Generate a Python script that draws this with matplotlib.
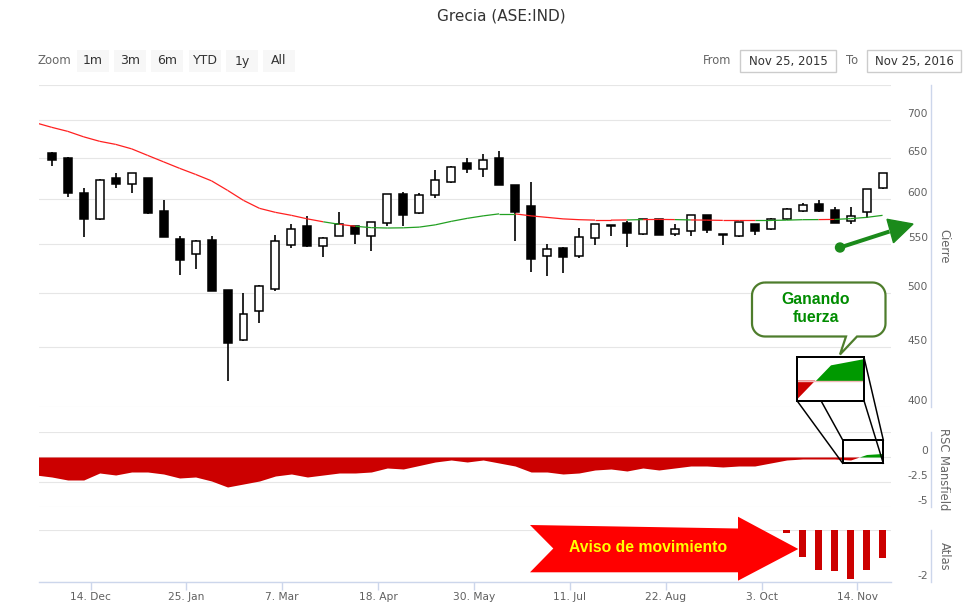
import numpy as np
import pandas as pd
import matplotlib
matplotlib.use("Agg")
import matplotlib.pyplot as plt
import matplotlib.dates as mdates
from matplotlib.patches import Rectangle, Polygon, PathPatch, Circle
from matplotlib.collections import LineCollection
from matplotlib.path import Path
from matplotlib.ticker import FixedLocator, NullLocator

plt.rcParams['font.family'] = ['DejaVu Sans']

# ---------------- data ----------------
title = "Grecia (ASE:IND)"
week_dates = pd.date_range("2015-11-27", "2016-11-25", freq="W-FRI")
opens = [657, 651, 607, 577, 626, 618, 625, 587, 555, 539, 554, 503, 456, 482, 504, 549, 569, 548,
         559, 570, 559, 573, 606, 584, 605, 621, 644, 636, 650, 617, 592, 537, 546, 537, 556, 570,
         573, 561, 577, 561, 564, 582, 560, 558, 572, 566, 577, 586, 594, 588, 575, 585, 613]
highs = [658, 652, 613, 624, 631, 632, 626, 599, 559, 554, 558, 503, 500, 508, 560, 572, 581, 557,
         585, 570, 574, 606, 609, 607, 635, 640, 651, 656, 659, 617, 621, 550, 547, 567, 572, 570.5,
         575, 577, 577, 572, 582, 582, 560.5, 574, 572, 579, 590, 596, 599, 591, 591, 612, 632]
lows = [640, 603, 557, 576, 613, 607, 583, 557, 518, 524, 502, 421, 455, 471, 502, 546, 547, 536,
        558, 550, 542, 570, 569, 583, 602, 620, 632, 627, 617, 553, 521, 517, 520, 535, 549, 559,
        547, 560, 560, 558, 558, 562, 549, 557, 560, 565, 576, 585, 585, 573, 572, 578, 612]
closes = [648, 607, 577, 623, 618, 632, 584, 557, 533, 553, 502, 453, 480, 507, 553, 566, 548, 556,
          572, 561, 574, 606, 582, 605, 623, 639, 636, 648, 617, 585, 534, 545, 536, 557, 572, 570.5,
          562, 577, 560, 566, 582, 565, 560.5, 574, 564, 577, 589, 593, 587, 573, 581, 612, 631]

ind_dates = pd.date_range("2015-11-20", "2016-11-25", freq="W-FRI")
ma_close = [696.6, 690.5, 685.1, 677.8, 671.9, 667.9, 662.1, 653.7, 645.5, 637.4, 629.9, 622.0,
            610.6, 598.7, 589.5, 584.9, 581.5, 577.5, 574.2, 571.4, 569.2, 567.7, 567.3, 567.5,
            568.3, 570.8, 574.7, 578.1, 580.9, 583.2, 583.2, 580.9, 579.2, 577.5, 576.6, 576.1,
            576.1, 576.3, 576.7, 576.9, 576.7, 576.3, 576.1, 575.8, 575.8, 575.8, 575.8, 576.1,
            576.6, 576.7, 576.9, 577.8, 579.2, 581.5]
rsc_mansfield = [-1.8, -2.0, -2.3, -2.3, -1.6, -1.8, -1.5, -1.5, -1.7, -2.1, -2.0, -2.4, -3.0, -2.7,
                 -2.4, -1.9, -1.7, -2.0, -1.8, -1.6, -1.6, -1.5, -1.1, -1.2, -0.85, -0.5, -0.3, -0.5,
                 -0.3, -0.6, -0.9, -1.5, -1.5, -1.7, -1.6, -1.3, -1.2, -1.4, -1.1, -1.3, -1.1, -0.9,
                 -0.9, -1.0, -0.9, -0.9, -0.6, -0.3, -0.2, -0.2, -0.2, -0.3, 0.25, 0.35]

atlas_dates = pd.to_datetime(["2016-10-14", "2016-10-21", "2016-10-28", "2016-11-04",
                              "2016-11-11", "2016-11-18", "2016-11-25"])
atlas_values = [-0.13, -1.05, -1.52, -1.56, -1.88, -1.52, -1.08]

price_ticks = [400, 450, 500, 550, 600, 650, 700]
rsc_ticks = [0, -2.5, -5]
rsc_tick_labels = ["0", "-2.5", "-5"]
atlas_ticks = [-2]
atlas_tick_labels = ["-2"]
x_tick_dates = pd.to_datetime(["2015-12-14", "2016-01-25", "2016-03-07", "2016-04-18", "2016-05-30",
                               "2016-07-11", "2016-08-22", "2016-10-03", "2016-11-14"])
x_tick_labels = ["14. Dec", "25. Jan", "7. Mar", "18. Apr", "30. May", "11. Jul", "22. Aug",
                 "3. Oct", "14. Nov"]
zoom_buttons = ["1m", "3m", "6m", "YTD", "1y", "All"]
date_from = "Nov 25, 2015"
date_to = "Nov 25, 2016"

# ---------------- layout ----------------
W, H = 964, 611
fig = plt.figure(figsize=(W / 100, H / 100), dpi=100)
fig.patch.set_facecolor("white")

PX = 0.72  # points per pixel
GRID = "#e6e6e6"
AXC = "#ccd6eb"
LBL = "#606060"

wd = mdates.date2num(week_dates.to_pydatetime())
idn = mdates.date2num(ind_dates.to_pydatetime())
x_anchor = mdates.date2num(pd.Timestamp("2015-11-27").to_pydatetime())
xlim = (x_anchor - 5.82, x_anchor + 367.7)

L, R = 38.5, 891


def panel(top, bottom):
    ax = fig.add_axes([L / W, 1 - bottom / H, (R - L) / W, (bottom - top) / H])
    ax.set_xlim(*xlim)
    for s in ["top", "left", "bottom"]:
        ax.spines[s].set_visible(False)
    ax.spines["right"].set_position(("outward", 40 * PX))
    ax.spines["right"].set_color(AXC)
    ax.spines["right"].set_linewidth(1.0)
    ax.tick_params(which="both", left=False, right=False, bottom=False,
                   labelleft=False, labelright=False, labelbottom=False)
    ax.grid(axis="y", color=GRID, lw=0.8)
    ax.set_axisbelow(True)
    return ax


def ylabels(ax, vals, labels):
    for v, t in zip(vals, labels):
        ax.annotate(t, xy=(1, v), xycoords=("axes fraction", "data"), xytext=(37, 6),
                    textcoords="offset pixels", ha="right", va="center", fontsize=7.7,
                    color=LBL, annotation_clip=False)


# price panel
ax1 = panel(85, 407)
ax1.set_yscale("log")
ax1.set_ylim(400, 750)
ax1.yaxis.set_major_locator(FixedLocator(price_ticks + [750]))
ax1.yaxis.set_minor_locator(NullLocator())
ax1.tick_params(which="both", left=False, right=False, labelleft=False, labelright=False)
ylabels(ax1, price_ticks, [str(v) for v in price_ticks])

bw = 3.5
for d, o, h, l, c in zip(wd, opens, highs, lows, closes):
    ax1.vlines(d, l, h, color="black", lw=1.2, zorder=3)
    lo, hi = min(o, c), max(o, c)
    if hi - lo < 0.6:
        hi = lo + 0.6
    ax1.add_patch(Rectangle((d - bw / 2, lo), bw, hi - lo, facecolor="black" if c < o else "white",
                            edgecolor="black", lw=1.1, zorder=4))

pts = np.column_stack([idn, ma_close])
segs, cols = [], []
close_by_date = dict(zip(wd, closes))
for k in range(1, len(pts)):
    segs.append(pts[k - 1:k + 1])
    c = close_by_date.get(idn[k], None)
    cols.append("#22a022" if (c is not None and c > ma_close[k]) else "#ff2020")
ax1.add_collection(LineCollection(segs, colors=cols, lw=0.9, zorder=5))

# RSC panel
ax2 = panel(432, 507)
ax2.set_ylim(-5, 2.5)
ax2.yaxis.set_major_locator(FixedLocator([2.5, 0, -2.5, -5]))
rsc = np.array(rsc_mansfield)
ax2.fill_between(idn, rsc, 0, where=rsc <= 0, interpolate=True, color="#cc0000", lw=0, zorder=3)
ax2.fill_between(idn, rsc, 0, where=rsc >= 0, interpolate=True, color="#009900", lw=0, zorder=3)
ylabels(ax2, rsc_ticks, rsc_tick_labels)

# Atlas panel
ax3 = panel(530, 582)
ax3.set_ylim(-2, 0)
ax3.yaxis.set_major_locator(FixedLocator([0, -2]))
ax3.bar(mdates.date2num(atlas_dates.to_pydatetime()), atlas_values, width=3.2, color="#cc0000",
        zorder=3)
ylabels(ax3, atlas_ticks, atlas_tick_labels)
ax3.spines["bottom"].set_visible(True)
ax3.spines["bottom"].set_color(AXC)
ax3.spines["bottom"].set_linewidth(1.0)
ax3.set_xticks(mdates.date2num(x_tick_dates.to_pydatetime()))
ax3.set_xticklabels(x_tick_labels)
ax3.tick_params(axis="x", bottom=True, labelbottom=True, length=8 * PX, width=1.0, color=AXC,
                labelcolor=LBL, labelsize=7.7, pad=1.5)

# ---------------- overlay (annotations, UI) ----------------
ov = fig.add_axes([0, 0, 1, 1], zorder=10)
ov.set_xlim(0, W)
ov.set_ylim(H, 0)
ov.axis("off")
ov.patch.set_alpha(0)

ov.text(501, 16, title, ha="center", va="center", fontsize=11, color="#333333")
ov.text(38, 61, "Zoom", ha="left", va="center", fontsize=8.5, color="#666666")
bx = [77, 114, 151, 189, 226, 263]
for x0, t in zip(bx, zoom_buttons):
    ov.add_patch(Rectangle((x0, 50), 32, 22, facecolor="#f7f7f7", edgecolor="none"))
    ov.text(x0 + 16, 61, t, ha="center", va="center", fontsize=9, color="#333333")
ov.text(731, 61, "From", ha="right", va="center", fontsize=8.3, color="#666666")
ov.add_patch(Rectangle((740, 50), 96, 22, facecolor="white", edgecolor="#cccccc", lw=1.0))
ov.text(788, 61, date_from, ha="center", va="center", fontsize=8.5, color="#333333")
ov.text(846, 61, "To", ha="left", va="center", fontsize=8.3, color="#666666")
ov.add_patch(Rectangle((867, 50), 94, 22, facecolor="white", edgecolor="#cccccc", lw=1.0))
ov.text(914, 61, date_to, ha="center", va="center", fontsize=8.5, color="#333333")

for txt, yc in [("Cierre", 246), ("RSC Mansfield", 469.5), ("Atlas", 556)]:
    ov.text(944, yc, txt, rotation=270, ha="center", va="center", fontsize=8.3, color="#666666")

# green arrow
g = "#1b8a1b"
ov.plot([840, 889.5], [247.5, 231.5], color=g, lw=4 * PX, solid_capstyle="butt")
ov.add_patch(Circle((840, 247.5), 4.5, color=g))
ov.add_patch(Polygon([(887, 219.3), (913, 224), (893.5, 242.7)], closed=True, color=g))

# callout "Ganando fuerza"
x0, y0, x1, y1, r = 752, 282.5, 885.5, 336.5, 13
verts = []
def arc(cx, cy, a0, a1):
    for a in np.linspace(np.radians(a0), np.radians(a1), 12):
        verts.append((cx + r * np.cos(a), cy + r * np.sin(a)))
verts.append((x0 + r, y0))
verts.append((x1 - r, y0))
arc(x1 - r, y0 + r, -90, 0)
verts.append((x1, y1 - r))
arc(x1 - r, y1 - r, 0, 90)
verts.append((857, y1))
verts.append((840, 354.5))
verts.append((846, y1))
verts.append((x0 + r, y1))
arc(x0 + r, y1 - r, 90, 180)
verts.append((x0, y0 + r))
arc(x0 + r, y0 + r, 180, 270)
verts.append(verts[0])
ov.add_patch(PathPatch(Path(verts), facecolor="white", edgecolor="#4e7d2c", lw=1.6))
ov.text(816, 299.5, "Ganando", ha="center", va="center", fontsize=11.3, fontweight="bold",
        color="#008c00", family=["Liberation Sans", "DejaVu Sans"])
ov.text(816, 317.5, "fuerza", ha="center", va="center", fontsize=11.3, fontweight="bold",
        color="#008c00", family=["Liberation Sans", "DejaVu Sans"])

# magnifier lines and small box
bxl, bxr, byt, byb = 797, 864, 357.3, 400.7
sxl, sxr, syt, syb = 842.7, 883.3, 440, 463.3
for (xa, ya), (xb, yb) in [((bxl, byt), (sxl, syt)), ((bxl, byb), (sxl, syb)),
                           ((bxr, byt), (sxr, syt)), ((bxr, byb), (sxr, syb))]:
    ov.plot([xa, xb], [ya, yb], color="black", lw=1.5 * PX)
ov.add_patch(Rectangle((sxl, syt), sxr - sxl, syb - syt, fill=False, edgecolor="black", lw=2 * PX))

# red arrow "Aviso de movimiento"
ov.add_patch(Polygon([(530, 525), (738, 528.5), (738, 516.7), (798.3, 549), (738, 580.7),
                      (738, 572.3), (530, 572.3), (553.3, 548.5)], closed=True,
                     facecolor="#ff0000", edgecolor="none"))
ov.text(648, 547.5, "Aviso de movimiento", ha="center", va="center", fontsize=11.3,
        fontweight="bold", color="#ffff00", family=["Liberation Sans", "DejaVu Sans"])

# magnified inset
ins = fig.add_axes([bxl / W, 1 - byb / H, (bxr - bxl) / W, (byb - byt) / H], zorder=11)
ins.set_facecolor("white")
ins.fill_between(idn, rsc, 0, where=rsc <= 0, interpolate=True, color="#cc0000", lw=0)
ins.fill_between(idn, rsc, 0, where=rsc >= 0, interpolate=True, color="#009900", lw=0)
ins.axhline(0, color="#f2b8b8", lw=1.0)
ins.set_xlim(wd[50], wd[52])
ins.set_ylim(-0.32, 0.37)
ins.set_xticks([])
ins.set_yticks([])
for s in ins.spines.values():
    s.set_color("black")
    s.set_linewidth(2 * PX)

fig.savefig("out.png", dpi=100)
